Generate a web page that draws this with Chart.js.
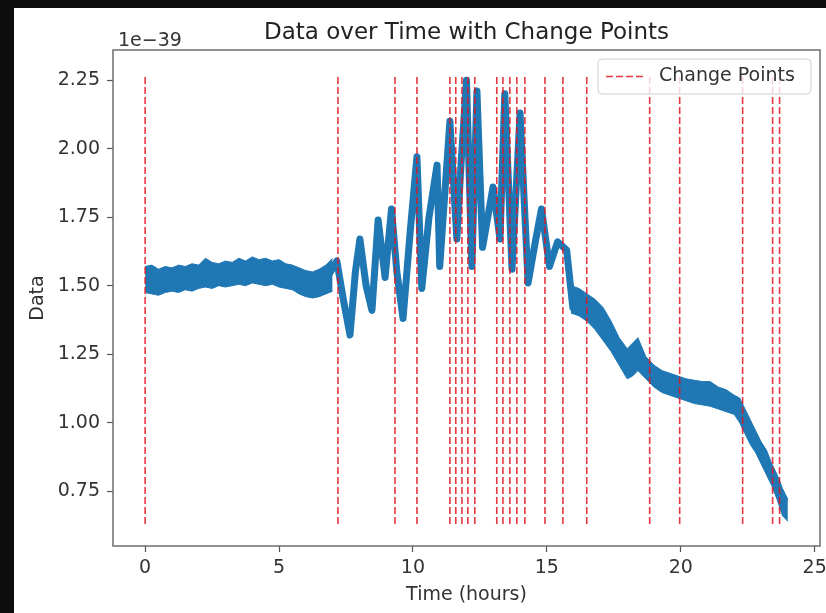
<!DOCTYPE html>
<html>
<head>
<meta charset="utf-8">
<script src="https://cdn.jsdelivr.net/npm/chart.js@4.4.0/dist/chart.umd.min.js"></script>
<style>
  html, body { margin: 0; padding: 0; background: #0d0d0d; }
  #frame { position: absolute; left: 14px; top: 8px; width: 812px; height: 605px; background: #fff; }
  canvas { display: block; }
</style>
</head>
<body>
<div id="frame"><canvas id="chart" width="812" height="605"></canvas></div>
<script>
// all values in units of 1e-39 (shown as the axis offset text)

// quiet stretch at the start: noise band edges
const leftTime  = [0, 0.25, 0.5, 0.75, 1, 1.25, 1.5, 1.75, 2, 2.25, 2.5, 2.75, 3, 3.25, 3.5, 3.75, 4, 4.25, 4.5, 4.75, 5, 5.25, 5.5, 5.75, 6, 6.25, 6.5, 6.75, 7];
const leftUpper = [1.57, 1.575, 1.56, 1.57, 1.565, 1.575, 1.57, 1.58, 1.575, 1.60, 1.585, 1.58, 1.59, 1.585, 1.60, 1.59, 1.605, 1.595, 1.60, 1.59, 1.595, 1.58, 1.575, 1.565, 1.555, 1.55, 1.56, 1.575, 1.60];
const leftLower = [1.475, 1.47, 1.465, 1.475, 1.48, 1.475, 1.485, 1.48, 1.49, 1.495, 1.49, 1.50, 1.495, 1.50, 1.505, 1.50, 1.51, 1.505, 1.50, 1.505, 1.495, 1.49, 1.485, 1.47, 1.46, 1.455, 1.46, 1.47, 1.48];

// oscillating middle part
const midTime  = [6.8, 7.16, 7.4, 7.65, 7.85, 8.02, 8.25, 8.47, 8.7, 8.96, 9.2, 9.4, 9.63, 9.9, 10.15, 10.33, 10.6, 10.9, 11.0, 11.2, 11.38, 11.64, 11.8, 12.0, 12.2, 12.39, 12.6, 12.99, 13.25, 13.43, 13.7, 14.0, 14.3, 14.55, 14.8, 15.1, 15.4, 15.74, 15.97, 16.2];
const midValue = [1.53, 1.59, 1.45, 1.32, 1.55, 1.67, 1.50, 1.41, 1.74, 1.53, 1.78, 1.55, 1.38, 1.70, 1.97, 1.49, 1.75, 1.94, 1.57, 1.85, 2.10, 1.67, 1.95, 2.25, 1.57, 2.21, 1.64, 1.86, 1.67, 2.20, 1.56, 2.13, 1.51, 1.65, 1.78, 1.57, 1.66, 1.63, 1.42, 1.46];

// decline at the end: noise band edges
const rightTime  = [15.9, 16.2, 16.5, 16.8, 17.1, 17.4, 17.7, 18.0, 18.2, 18.4, 18.7, 19.0, 19.3, 19.6, 19.9, 20.2, 20.5, 20.8, 21.1, 21.4, 21.7, 22.0, 22.2, 22.4, 22.6, 22.8, 23.0, 23.2, 23.4, 23.6, 23.8, 24.0];
const rightUpper = [1.50, 1.49, 1.47, 1.45, 1.42, 1.37, 1.31, 1.27, 1.29, 1.31, 1.24, 1.21, 1.19, 1.18, 1.17, 1.16, 1.155, 1.15, 1.15, 1.13, 1.12, 1.10, 1.09, 1.05, 1.01, 0.97, 0.93, 0.90, 0.85, 0.81, 0.76, 0.72];
const rightLower = [1.40, 1.39, 1.37, 1.34, 1.30, 1.26, 1.21, 1.16, 1.17, 1.19, 1.16, 1.13, 1.11, 1.10, 1.09, 1.08, 1.07, 1.065, 1.06, 1.05, 1.04, 1.03, 1.00, 0.96, 0.92, 0.89, 0.85, 0.81, 0.77, 0.72, 0.66, 0.64];

const changePoints = [0, 7.2, 9.33, 10.15, 11.38, 11.6, 11.83, 12.05, 12.31, 13.13, 13.36, 13.62, 13.88, 14.18, 14.93, 15.6, 16.49, 18.84, 19.96, 22.31, 23.43, 23.69];
const changeMin = 0.63;
const changeMax = 2.27;

const xTicks = [0, 5, 10, 15, 20, 25];
const yTicks = [0.75, 1.00, 1.25, 1.50, 1.75, 2.00, 2.25];

const FONT = '"DejaVu Sans", sans-serif';
const BLUE = '#1f77b4';
const RED = 'rgba(225, 20, 30, 0.85)';
const TEXT = '#333';

const pairs = (xs, ys) => xs.map((x, i) => ({ x: x, y: ys[i] }));

// one dataset for all change lines, broken by null points
const changeData = [];
changePoints.forEach((cp) => {
    changeData.push({ x: cp, y: changeMin }, { x: cp, y: changeMax }, { x: cp, y: null });
});

const bandStyle = {
    borderColor: BLUE,
    backgroundColor: BLUE,
    borderWidth: 1,
    pointRadius: 0,
    tension: 0
};

// axes frame, offset text, title and legend drawn like matplotlib
const decorPlugin = {
    id: 'decor',
    afterDatasetsDraw(chart) {
        const { ctx, chartArea: a } = chart;
        ctx.save();
        ctx.strokeStyle = '#6e6e6e';
        ctx.lineWidth = 1.5;
        ctx.strokeRect(a.left, a.top, a.right - a.left, a.bottom - a.top);

        ctx.fillStyle = TEXT;
        ctx.font = '19px ' + FONT;
        ctx.textAlign = 'left';
        ctx.textBaseline = 'alphabetic';
        ctx.fillText('1e\u221239', a.left + 5, a.top - 4);

        ctx.font = '23px ' + FONT;
        ctx.fillStyle = '#222';
        ctx.textAlign = 'center';
        ctx.textBaseline = 'middle';
        ctx.fillText('Data over Time with Change Points', (a.left + a.right) / 2, 25);

        // legend box
        const w = 213, h = 35;
        const lx = a.right - 9 - w, ly = a.top + 9;
        ctx.beginPath();
        ctx.roundRect(lx, ly, w, h, 4);
        ctx.fillStyle = 'rgba(255,255,255,0.8)';
        ctx.fill();
        ctx.strokeStyle = '#d0d0d0';
        ctx.lineWidth = 1;
        ctx.stroke();

        const cy = ly + h / 2;
        ctx.beginPath();
        ctx.setLineDash([7, 3]);
        ctx.strokeStyle = RED;
        ctx.lineWidth = 1.6;
        ctx.moveTo(lx + 8, cy);
        ctx.lineTo(lx + 46, cy);
        ctx.stroke();
        ctx.setLineDash([]);

        ctx.font = '19px ' + FONT;
        ctx.fillStyle = TEXT;
        ctx.textAlign = 'left';
        ctx.fillText('Change Points', lx + 61, cy);
        ctx.restore();
    }
};

new Chart(document.getElementById('chart'), {
    type: 'line',
    data: {
        datasets: [
            {
                label: 'Change Points',
                data: changeData,
                borderColor: RED,
                borderWidth: 1.6,
                borderDash: [7, 3],
                pointRadius: 0,
                spanGaps: false,
                fill: false
            },
            {
                label: 'Data',
                data: pairs(midTime, midValue),
                borderColor: BLUE,
                borderWidth: 7,
                borderJoinStyle: 'round',
                pointRadius: 0,
                tension: 0,
                fill: false
            },
            { ...bandStyle, label: 'band-left-upper', data: pairs(leftTime, leftUpper), fill: false },
            { ...bandStyle, label: 'band-left-lower', data: pairs(leftTime, leftLower), fill: 2 },
            { ...bandStyle, label: 'band-right-upper', data: pairs(rightTime, rightUpper), fill: false },
            { ...bandStyle, label: 'band-right-lower', data: pairs(rightTime, rightLower), fill: 4 }
        ]
    },
    options: {
        responsive: false,
        animation: false,
        layout: { padding: { top: 42, right: 6, left: 0, bottom: 0 } },
        plugins: {
            legend: { display: false },
            tooltip: { enabled: false },
            title: { display: false }
        },
        scales: {
            x: {
                type: 'linear',
                min: -1.2,
                max: 25.2,
                afterBuildTicks: (s) => { s.ticks = xTicks.map((v) => ({ value: v })); },
                afterFit: (s) => {
                    s.height = 67;
                    // let the last tick label hang over the edge, as in matplotlib
                    s.paddingRight = 0;
                    s.paddingLeft = 0;
                },
                ticks: {
                    font: { family: FONT, size: 19 },
                    color: TEXT,
                    padding: 5,
                    maxRotation: 0,
                    callback: (v) => String(v)
                },
                grid: { drawOnChartArea: false, drawTicks: true, tickLength: 6, tickColor: '#555', tickWidth: 1.2 },
                border: { display: false },
                title: {
                    display: true,
                    text: 'Time (hours)',
                    font: { family: FONT, size: 19 },
                    color: TEXT,
                    padding: { top: 4, bottom: 6.6 }
                }
            },
            y: {
                type: 'linear',
                min: 0.55,
                max: 2.36,
                afterBuildTicks: (s) => { s.ticks = yTicks.map((v) => ({ value: v })); },
                afterFit: (s) => { s.width = 99; },
                ticks: {
                    font: { family: FONT, size: 19 },
                    color: TEXT,
                    padding: 7,
                    callback: (v) => v.toFixed(2)
                },
                grid: { drawOnChartArea: false, drawTicks: true, tickLength: 6, tickColor: '#555', tickWidth: 1.2 },
                border: { display: false },
                title: {
                    display: true,
                    text: 'Data',
                    font: { family: FONT, size: 19 },
                    color: TEXT,
                    padding: { top: 12.6, bottom: 4 }
                }
            }
        }
    },
    plugins: [decorPlugin]
});
</script>
</body>
</html>
